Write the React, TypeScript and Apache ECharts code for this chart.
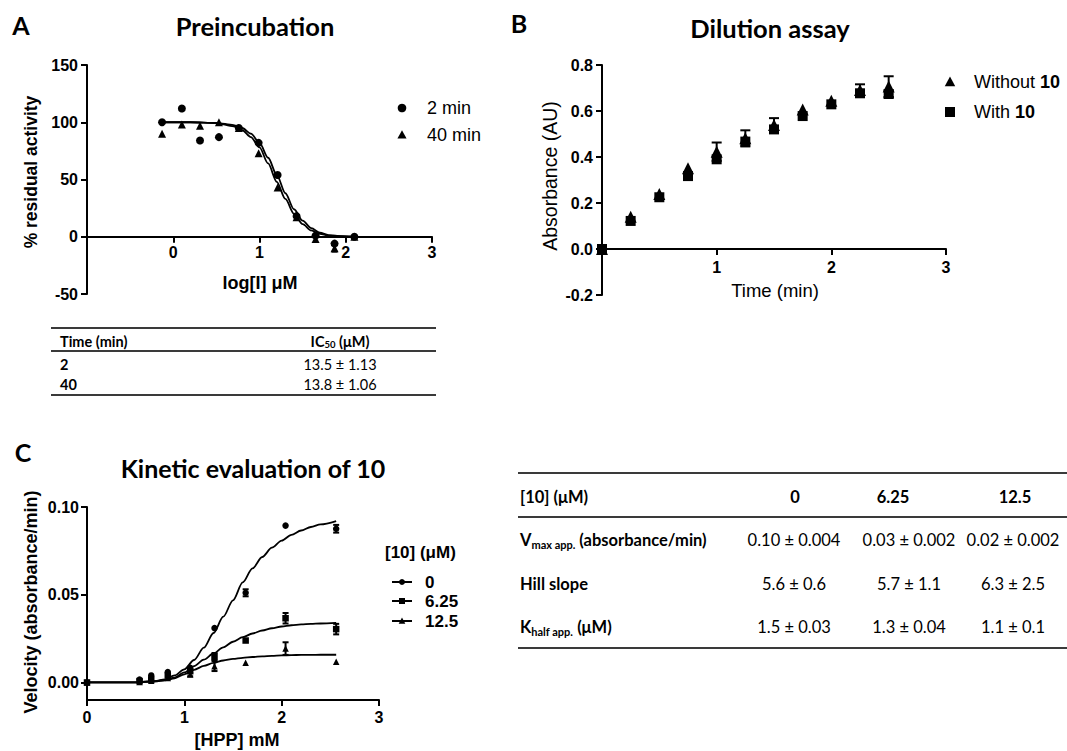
import React, { useEffect, useRef } from 'react';
import * as echarts from 'echarts';

// ---------- Panel A: Preincubation ----------
const aX = [-0.13, 0.1, 0.31, 0.53, 0.76, 0.99, 1.21, 1.43, 1.65, 1.87, 2.1];
const a2min = [100, 112, 84, 87, 95, 82, 54, 18, 1, -6, 0];
const a40min = [90, 98, 97, 100, 95, 73, 43, 17, -2, -10, 0];
const a40Err = [0, 0, 0, 0, 0, 0, 0, 0, 0, 3, 0];
const aFitX = [-0.13, 0.2, 0.5, 0.7, 0.8, 0.9, 1.0, 1.1, 1.2, 1.3, 1.4, 1.5, 1.6, 1.7, 1.8, 1.9, 2.1];
const aFit2min = [100, 100, 99.5, 97.5, 95, 90, 82, 69, 54, 38, 24, 14, 7.5, 3.5, 1.5, 0.7, 0];
const aFit40min = [100, 100, 99.3, 96.5, 93, 87, 78, 64, 48, 33, 20, 11, 5.5, 2.5, 1, 0.4, 0];
const aXTicks = [0, 1, 2, 3];
const aYTicks = [-50, 0, 50, 100, 150];

// Table A
const tableAHeader = ['Time (min)', 'IC50 (μM)'];
const tableATimes = ['2', '40'];
const tableAIC50 = ['13.5 ± 1.13', '13.8 ± 1.06'];

// ---------- Panel B: Dilution assay ----------
const bX = [0, 0.25, 0.5, 0.75, 1, 1.25, 1.5, 1.75, 2, 2.25, 2.5];
const bWithout = [0, 0.14, 0.239, 0.351, 0.423, 0.481, 0.539, 0.607, 0.645, 0.691, 0.706];
const bWithoutErr = [0, 0, 0, 0, 0.04, 0.035, 0.03, 0, 0, 0.025, 0.045];
const bWith = [0, 0.122, 0.225, 0.317, 0.39, 0.467, 0.52, 0.578, 0.629, 0.677, 0.674];
const bWithErr = [0, 0, 0, 0, 0, 0, 0, 0, 0, 0.01, 0.015];

// ---------- Panel C: Kinetic evaluation ----------
const cX = [0, 0.54, 0.66, 0.83, 1.06, 1.31, 1.63, 2.04, 2.56];
const c0 = [0, 0.0017, 0.004, 0.0059, 0.0083, 0.031, 0.0511, 0.0894, 0.0876];
const c0Err = [0, 0, 0, 0, 0, 0, 0.002, 0, 0.0022];
const c625 = [0, 0.0008, 0.0017, 0.004, 0.0064, 0.0148, 0.0239, 0.0366, 0.0304];
const c625Err = [0, 0, 0, 0, 0, 0.002, 0, 0.003, 0.003];
const c125 = [0, 0.0003, 0.001, 0.0025, 0.0045, 0.0093, 0.0112, 0.0193, 0.0118];
const c125Err = [0, 0, 0, 0, 0.001, 0.0028, 0, 0.0036, 0];
const cFitX = [0, 0.5, 0.7, 0.8, 0.9, 1.0, 1.1, 1.2, 1.3, 1.4, 1.5, 1.6, 1.7, 1.8, 1.9, 2.0, 2.1, 2.2, 2.3, 2.4, 2.56];
const cFit0 = [0, 0.0001, 0.0008, 0.0018, 0.004, 0.0075, 0.0128, 0.0198, 0.0282, 0.0375, 0.0468, 0.057, 0.065, 0.0715, 0.0768, 0.0808, 0.0841, 0.0866, 0.0886, 0.0901, 0.092];
const cFit625 = [0, 0.0001, 0.0007, 0.0014, 0.0027, 0.0057, 0.0093, 0.013, 0.0165, 0.02, 0.0232, 0.0258, 0.0279, 0.0296, 0.0309, 0.0319, 0.0326, 0.0331, 0.0334, 0.0336, 0.0339];
const cFit125 = [0, 0.0001, 0.0006, 0.0012, 0.0024, 0.0046, 0.0072, 0.0094, 0.0112, 0.0125, 0.0134, 0.014, 0.0145, 0.0149, 0.0152, 0.0154, 0.0156, 0.0157, 0.0157, 0.0158, 0.0158];
const cYTicks = [0, 0.05, 0.1];
const cLegend = ['0', '6.25', '12.5'];

// Table C
const tableCCols = ['0', '6.25', '12.5'];
const tableCVmax = ['0.10 ± 0.004', '0.03 ± 0.002', '0.02 ± 0.002'];
const tableCHill = ['5.6 ± 0.6', '5.7 ± 1.1', '6.3 ± 2.5'];
const tableCKhalf = ['1.5 ± 0.03', '1.3 ± 0.04', '1.1 ± 0.1'];

const ARIAL = '"Liberation Sans", Arial, sans-serif';
const CAL = 'Lato, "Open Sans", sans-serif';
const BLACK = '#000';

function pts(xs: number[], ys: number[]) {
  return xs.map((x, i) => [x, ys[i]]);
}

function errSeries(xs: number[], ys: number[], errs: number[], gi: number, cap: number) {
  const data = xs
    .map((x, i) => [x, ys[i] - errs[i], ys[i] + errs[i]])
    .filter((_, i) => errs[i] > 0);
  return {
    type: 'custom',
    xAxisIndex: gi,
    yAxisIndex: gi,
    data,
    encode: { x: 0, y: [1, 2] },
    z: 4,
    renderItem: (params: any, api: any) => {
      const x = api.value(0);
      const lo = api.coord([x, api.value(1)]);
      const hi = api.coord([x, api.value(2)]);
      const st = { stroke: BLACK, lineWidth: 2 };
      return {
        type: 'group',
        children: [
          { type: 'line', shape: { x1: lo[0], y1: lo[1], x2: hi[0], y2: hi[1] }, style: st },
          { type: 'line', shape: { x1: hi[0] - cap, y1: hi[1], x2: hi[0] + cap, y2: hi[1] }, style: st },
          { type: 'line', shape: { x1: lo[0] - cap, y1: lo[1], x2: lo[0] + cap, y2: lo[1] }, style: st },
        ],
      };
    },
  };
}

function scatter(xs: number[], ys: number[], gi: number, symbol: string, size: number) {
  return {
    type: 'scatter',
    xAxisIndex: gi,
    yAxisIndex: gi,
    data: pts(xs, ys),
    symbol,
    symbolSize: size,
    itemStyle: { color: BLACK, opacity: 1 },
    z: 5,
  };
}

function fitLine(xs: number[], ys: number[], gi: number) {
  return {
    type: 'line',
    xAxisIndex: gi,
    yAxisIndex: gi,
    data: pts(xs, ys),
    showSymbol: false,
    smooth: 0.3,
    smoothMonotone: 'x',
    lineStyle: { color: BLACK, width: 1.8 },
    z: 3,
  };
}

function txt(text: string, x: number, y: number, opts: any = {}) {
  return {
    type: 'text',
    x,
    y,
    rotation: opts.rotation || 0,
    z: 10,
    style: {
      text,
      fill: BLACK,
      fontFamily: opts.fontFamily || ARIAL,
      fontSize: opts.fontSize || 16,
      fontWeight: opts.fontWeight || 'normal',
      align: opts.align || 'left',
      verticalAlign: 'middle',
      rich: opts.rich,
    },
  };
}

function hline(x1: number, x2: number, y: number, w = 2) {
  return { type: 'line', shape: { x1, y1: y, x2, y2: y }, style: { stroke: '#3a3a3a', lineWidth: w }, z: 10 };
}

function tri(cx: number, cy: number, r: number) {
  return {
    type: 'polygon',
    shape: { points: [[cx, cy - r], [cx - r * 0.95, cy + r * 0.75], [cx + r * 0.95, cy + r * 0.75]] },
    style: { fill: BLACK },
    z: 10,
  };
}

export default function App() {
  const ref = useRef<HTMLDivElement>(null);
  useEffect(() => {
    if (!ref.current) return;
    const chart = echarts.init(ref.current, undefined, { renderer: 'svg' });

    const tickLbl = (size: number, margin: number) => ({
      color: BLACK,
      fontFamily: ARIAL,
      fontWeight: 'bold',
      fontSize: size,
      margin,
    });
    const aLine = { onZero: false, lineStyle: { color: BLACK, width: 2 } };
    const tick = (cv?: number[]) => ({
      show: true,
      length: 6,
      lineStyle: { color: BLACK, width: 2 },
      ...(cv ? { customValues: cv } : {}),
    });

    const graphics: any[] = [];
    // Panel letters and titles
    graphics.push(txt('A', 21, 25, { fontFamily: CAL, fontWeight: 'bold', fontSize: 25, align: 'center' }));
    graphics.push(txt('Preincubation', 255, 26, { fontFamily: CAL, fontWeight: 'bold', fontSize: 25.5, align: 'center' }));
    graphics.push(txt('B', 519, 23, { fontFamily: CAL, fontWeight: 'bold', fontSize: 25, align: 'center' }));
    graphics.push(txt('Dilution assay', 770, 28, { fontFamily: CAL, fontWeight: 'bold', fontSize: 25.5, align: 'center' }));
    graphics.push(txt('C', 23, 452, { fontFamily: CAL, fontWeight: 'bold', fontSize: 25, align: 'center' }));
    graphics.push(txt('Kinetic evaluation of 10', 253, 468, { fontFamily: CAL, fontWeight: 'bold', fontSize: 25, align: 'center' }));

    // Axis names
    graphics.push(txt('% residual activity', 31, 172, { fontWeight: 'bold', fontSize: 17.5, align: 'center', rotation: Math.PI / 2 }));
    graphics.push(txt('log[I] μM', 260, 283, { fontWeight: 'bold', fontSize: 18, align: 'center' }));
    graphics.push(txt('Absorbance (AU)', 550, 176, { fontSize: 19.5, align: 'center', rotation: Math.PI / 2 }));
    graphics.push(txt('Time (min)', 775, 290, { fontSize: 18.5, align: 'center' }));
    graphics.push(txt('Velocity (absorbance/min)', 31, 602, { fontWeight: 'bold', fontSize: 18, align: 'center', rotation: Math.PI / 2 }));
    graphics.push(txt('[HPP] mM', 237, 740, { fontWeight: 'bold', fontSize: 18, align: 'center' }));

    // Legend A
    graphics.push({ type: 'circle', shape: { cx: 402, cy: 108, r: 4.3 }, style: { fill: BLACK }, z: 10 });
    graphics.push(txt('2 min', 427, 108, { fontSize: 18 }));
    graphics.push(tri(402, 135, 4.8));
    graphics.push(txt('40 min', 427, 135, { fontSize: 18 }));

    // Legend B
    const richB = {
      n: { fontFamily: ARIAL, fontSize: 18, fill: BLACK, color: BLACK },
      b: { fontFamily: ARIAL, fontSize: 18, fontWeight: 'bold', fill: BLACK, color: BLACK },
    };
    graphics.push(tri(950, 82, 5.5));
    graphics.push(txt('{n|Without }{b|10}', 974, 82, { fontSize: 18, rich: richB }));
    graphics.push({ type: 'rect', shape: { x: 945, y: 107, width: 10, height: 10 }, style: { fill: BLACK }, z: 10 });
    graphics.push(txt('{n|With }{b|10}', 974, 112, { fontSize: 18, rich: richB }));

    // Legend C
    graphics.push(txt('[10] (μM)', 385, 552, { fontWeight: 'bold', fontSize: 17 }));
    const legYs = [582, 601, 621];
    legYs.forEach((y, i) => {
      graphics.push({ type: 'line', shape: { x1: 392, y1: y, x2: 412, y2: y }, style: { stroke: BLACK, lineWidth: 2 }, z: 10 });
      if (i === 0) graphics.push({ type: 'circle', shape: { cx: 402, cy: y, r: 3 }, style: { fill: BLACK }, z: 10 });
      if (i === 1) graphics.push({ type: 'rect', shape: { x: 399, y: y - 3, width: 6, height: 6 }, style: { fill: BLACK }, z: 10 });
      if (i === 2) graphics.push(tri(402, y, 3.5));
      graphics.push(txt(cLegend[i], 425, y, { fontWeight: 'bold', fontSize: 17 }));
    });

    // Table A
    graphics.push(hline(51, 436, 328, 2.2));
    graphics.push(hline(51, 436, 351, 2));
    graphics.push(hline(51, 436, 395, 2.2));
    const TA = 14.5;
    const richA = {
      h: { fontFamily: CAL, fontSize: TA, fontWeight: 'bold', fill: BLACK, color: BLACK, lineHeight: 17 },
      s: { fontFamily: CAL, fontSize: 9.5, fontWeight: 'bold', fill: BLACK, color: BLACK, lineHeight: 17, verticalAlign: 'bottom' },
    };
    graphics.push(txt(tableAHeader[0], 60, 341, { fontFamily: CAL, fontWeight: 'bold', fontSize: TA }));
    graphics.push(txt('{h|IC}{s|50}{h| (μM)}', 340, 341, { fontFamily: CAL, fontSize: TA, align: 'center', rich: richA }));
    const rowAYs = [364, 384];
    tableATimes.forEach((t, i) => {
      graphics.push(txt(t, 60, rowAYs[i], { fontFamily: CAL, fontWeight: 'bold', fontSize: TA }));
      graphics.push(txt(tableAIC50[i], 340, rowAYs[i], { fontFamily: CAL, fontSize: TA, align: 'center' }));
    });

    // Table C
    graphics.push(hline(518, 1067, 473, 2.2));
    graphics.push(hline(518, 1067, 517, 2));
    graphics.push(hline(518, 1067, 648, 2.2));
    const TC = 16.5;
    const richC = {
      b: { fontFamily: CAL, fontSize: TC, fontWeight: 'bold', fill: BLACK, color: BLACK, lineHeight: 20 },
      s: { fontFamily: CAL, fontSize: 11, fontWeight: 'bold', fill: BLACK, color: BLACK, lineHeight: 20, verticalAlign: 'bottom' },
    };
    const headXs = [795, 893, 1015];
    const valXs = [794, 909, 1013];
    graphics.push(txt('[10] (μM)', 520, 497, { fontFamily: CAL, fontWeight: 'bold', fontSize: TC }));
    tableCCols.forEach((c, i) => graphics.push(txt(c, headXs[i], 497, { fontFamily: CAL, fontWeight: 'bold', fontSize: TC, align: 'center' })));
    graphics.push(txt('{b|V}{s|max app.}{b| (absorbance/min)}', 520, 540, { fontFamily: CAL, fontSize: TC, rich: richC }));
    graphics.push(txt('Hill slope', 520, 584, { fontFamily: CAL, fontWeight: 'bold', fontSize: TC }));
    graphics.push(txt('{b|K}{s|half app.}{b| (μM)}', 520, 627, { fontFamily: CAL, fontSize: TC, rich: richC }));
    [tableCVmax, tableCHill, tableCKhalf].forEach((row, r) => {
      const y = [540, 584, 627][r];
      row.forEach((v, i) => graphics.push(txt(v, valXs[i], y, { fontFamily: CAL, fontSize: TC, align: 'center' })));
    });

    // grid geometry
    const gA = { left: 87, top: 65, width: 345, height: 229 };
    const gB = { left: 602, top: 65, width: 344, height: 230 };
    const gC = { left: 87, top: 507, width: 292, height: 193 };
    // offset of x-axis so it sits at y = 0
    const offA = -(gA.height * (50 / 200));
    const offB = -(gB.height * (0.2 / 1.0));

    const option: any = {
      animation: false,
      backgroundColor: '#fff',
      grid: [gA, gB, gC].map((g) => ({ ...g, containLabel: false, outerBoundsMode: 'none' })),
      xAxis: [
        {
          gridIndex: 0, type: 'value', min: -1, max: 3, interval: 1, offset: offA,
          axisLine: aLine, axisTick: tick(aXTicks), splitLine: { show: false },
          axisLabel: { ...tickLbl(16, 8), customValues: aXTicks },
        },
        {
          gridIndex: 1, type: 'value', min: 0, max: 3, interval: 1, offset: offB,
          axisLine: aLine, axisTick: tick(), splitLine: { show: false },
          axisLabel: { ...tickLbl(16, 10), showMinLabel: false },
        },
        {
          gridIndex: 2, type: 'value', min: 0, max: 3, interval: 1,
          axisLine: aLine, axisTick: tick(), splitLine: { show: false },
          axisLabel: tickLbl(16, 9),
        },
      ],
      yAxis: [
        {
          gridIndex: 0, type: 'value', min: -50, max: 150, interval: 50,
          axisLine: aLine, axisTick: tick(aYTicks), splitLine: { show: false },
          axisLabel: { ...tickLbl(16, 9), customValues: aYTicks },
        },
        {
          gridIndex: 1, type: 'value', min: -0.2, max: 0.8, interval: 0.2,
          axisLine: aLine, axisTick: tick(), splitLine: { show: false },
          axisLabel: { ...tickLbl(16, 9), formatter: (v: number) => (Math.abs(v) < 1e-9 ? 0 : v).toFixed(1) },
        },
        {
          gridIndex: 2, type: 'value', min: -0.01, max: 0.1,
          axisLine: aLine, axisTick: tick(cYTicks), splitLine: { show: false },
          axisLabel: { ...tickLbl(16, 8), customValues: cYTicks, formatter: (v: number) => v.toFixed(2) },
        },
      ],
      series: [
        // Panel A
        fitLine(aFitX, aFit2min, 0),
        fitLine(aFitX, aFit40min, 0),
        errSeries(aX, a40min, a40Err, 0, 3),
        scatter(aX, a2min, 0, 'circle', 8),
        scatter(aX, a40min, 0, 'triangle', 8),
        // Panel B
        errSeries(bX, bWithout, bWithoutErr, 1, 5),
        errSeries(bX, bWith, bWithErr, 1, 5),
        scatter(bX, bWithout, 1, 'triangle', 12),
        scatter(bX, bWith, 1, 'rect', 10),
        // Panel C
        fitLine(cFitX, cFit0, 2),
        fitLine(cFitX, cFit625, 2),
        fitLine(cFitX, cFit125, 2),
        errSeries(cX, c0, c0Err, 2, 3),
        errSeries(cX, c625, c625Err, 2, 3),
        errSeries(cX, c125, c125Err, 2, 3),
        scatter(cX, c0, 2, 'circle', 6.5),
        scatter(cX, c625, 2, 'rect', 6.5),
        scatter(cX, c125, 2, 'triangle', 6.5),
      ],
      graphic: graphics,
    };
    chart.setOption(option);
    return () => chart.dispose();
  }, []);

  return (
    <div
      ref={ref}
      style={{ position: 'absolute', left: 0, top: 0, width: 1067, height: 751, background: '#fff' }}
    />
  );
}
